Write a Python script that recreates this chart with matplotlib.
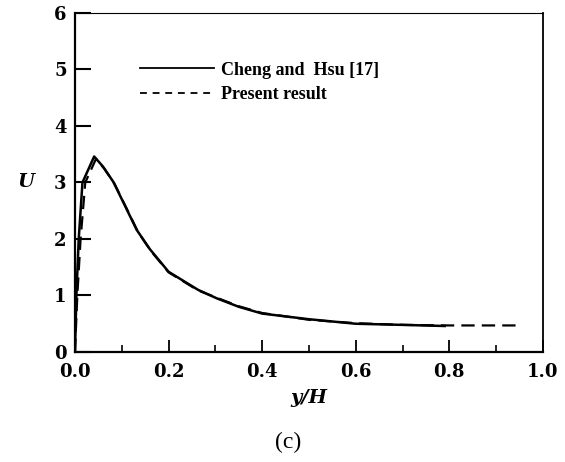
import matplotlib
matplotlib.use("Agg")
import matplotlib.pyplot as plt
from matplotlib.lines import Line2D

# Cheng and Hsu [17] (solid)
cheng_x = [0.0, 0.003, 0.008, 0.016, 0.041, 0.06, 0.082, 0.105, 0.132, 0.16, 0.2, 0.263, 0.303, 0.35, 0.4, 0.5, 0.6, 0.7, 0.79]
cheng_u = [0.0, 1.0, 2.0, 3.0, 3.46, 3.28, 3.01, 2.62, 2.16, 1.82, 1.42, 1.10, 0.95, 0.80, 0.68, 0.58, 0.50, 0.48, 0.46]

# Present result (dashed)
pres_x = [0.0, 0.005, 0.012, 0.022, 0.045, 0.063, 0.085, 0.108, 0.135, 0.162, 0.2, 0.263, 0.303, 0.35, 0.4, 0.5, 0.6, 0.7, 0.8, 0.95]
pres_u = [0.0, 1.0, 2.0, 3.0, 3.42, 3.24, 2.97, 2.58, 2.12, 1.79, 1.41, 1.09, 0.96, 0.81, 0.69, 0.57, 0.51, 0.48, 0.47, 0.47]

labels = ["Cheng and  Hsu [17]", "Present result"]
xticks = [0.0, 0.2, 0.4, 0.6, 0.8, 1.0]
yticks = [0, 1, 2, 3, 4, 5, 6]

serif = ["Liberation Serif", "DejaVu Serif"]
wide = ["DejaVu Serif"]

fig = plt.figure(figsize=(5.65, 4.62), dpi=100)
ax = fig.add_axes([0.1327, 0.2381, 0.961 - 0.1327, 0.9719 - 0.2381])

ax.plot(cheng_x, cheng_u, color="black", lw=1.8, ls="-")
ax.plot(pres_x, pres_u, color="black", lw=1.6, ls=(0, (6, 3.2)))

ax.set_xlim(0, 1.0)
ax.set_ylim(0, 6)
ax.set_xticks(xticks)
ax.set_xticklabels([f"{v:.1f}" for v in xticks], family=wide, fontweight="bold", fontsize=13)
ax.set_xticks([0.1, 0.3, 0.5, 0.7, 0.9], minor=True)
ax.set_yticks(yticks)
ax.set_yticklabels([str(v) for v in yticks], family=wide, fontweight="bold", fontsize=13)

ax.tick_params(axis="y", which="major", direction="in", length=11.5, width=1.5, pad=6)
ax.tick_params(axis="x", which="major", direction="in", length=8.6, width=1.3, pad=8)
ax.tick_params(axis="x", which="minor", direction="in", length=5, width=1.2)

ax.spines["left"].set_linewidth(1.6)
ax.spines["bottom"].set_linewidth(1.6)
ax.spines["right"].set_linewidth(1.3)
ax.spines["top"].set_linewidth(0.8)

ax.set_ylabel("U", family=wide, fontstyle="italic", fontweight="bold", fontsize=14,
              rotation=0, va="center", ha="center")
ax.yaxis.set_label_coords(-0.104, 0.5)
ax.set_xlabel("y/H", family=wide, fontstyle="italic", fontweight="bold", fontsize=14, labelpad=6)

handles = [Line2D([], [], color="black", lw=1.3, ls="-"),
           Line2D([], [], color="black", lw=1.3, ls=(0, (3.8, 3.2)))]
leg = ax.legend(handles, labels, loc="upper left", bbox_to_anchor=(0.139, 0.856), frameon=False,
                prop={"family": serif, "weight": "bold", "size": 13},
                handlelength=4.1, handletextpad=0.4, labelspacing=0.4,
                borderaxespad=0, borderpad=0)

fig.text(0.51, 0.043, "(c)", family=serif, fontsize=17, ha="center", va="center")

fig.savefig("out.png", dpi=100)
